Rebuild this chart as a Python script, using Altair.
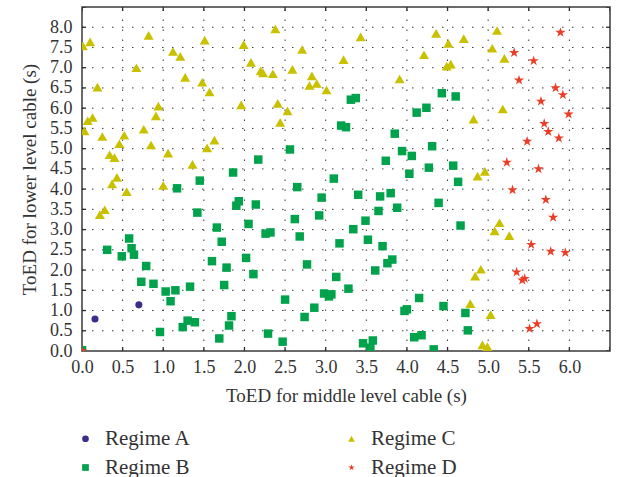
import altair as alt
import pandas as pd

# ---- data ----
a_x = [0.16, 0.70]
a_y = [0.79, 1.14]

b_x = [0.00, 1.17, 1.45, 1.86, 2.17, 2.56, 2.65, 3.10, 3.31, 3.37, 4.43, 4.60, 4.12, 4.24,
       3.19, 3.25, 3.85, 3.94, 4.06, 4.31, 3.74, 4.27, 4.57, 4.03, 4.63, 3.40, 3.67, 3.80,
       3.88, 3.65, 4.39, 3.49, 3.34, 3.52, 4.66, 3.17, 3.70, 3.82, 3.76, 3.61, 3.13, 3.28,
       4.15, 4.00, 3.97, 4.45, 4.72, 4.75, 4.09, 4.18, 3.46, 3.58, 3.55, 4.33, 2.95, 1.93,
       1.90, 2.14, 1.42, 2.92, 2.62, 2.05, 1.66, 2.26, 2.32, 2.68, 1.72, 0.58, 0.31, 0.61,
       0.64, 0.49, 1.60, 2.02, 1.78, 2.77, 2.11, 0.79, 0.73, 0.88, 1.75, 1.33, 1.03, 1.15,
       1.09, 2.98, 3.04, 3.07, 2.50, 2.86, 2.74, 1.84, 1.30, 1.24, 1.39, 1.81, 0.96, 2.29,
       1.69, 2.47]
b_y = [0.02, 4.02, 4.21, 4.41, 4.73, 4.98, 4.05, 4.26, 6.21, 6.25, 6.37, 6.29, 5.89, 6.01,
       5.57, 5.53, 5.37, 4.94, 4.82, 5.06, 4.70, 4.53, 4.58, 4.38, 4.18, 3.86, 3.82, 3.90,
       3.54, 3.46, 3.66, 3.22, 3.01, 2.75, 3.10, 2.66, 2.59, 2.26, 2.17, 1.99, 1.83, 1.54,
       1.31, 1.03, 0.99, 1.11, 0.94, 0.51, 0.34, 0.39, 0.19, 0.26, 0.08, 0.04, 3.79, 3.70,
       3.59, 3.62, 3.42, 3.35, 3.26, 3.14, 3.05, 2.90, 2.93, 2.83, 2.70, 2.78, 2.50, 2.54,
       2.38, 2.34, 2.22, 2.30, 2.06, 2.14, 1.90, 2.10, 1.71, 1.66, 1.63, 1.59, 1.47, 1.50,
       1.23, 1.42, 1.35, 1.40, 1.27, 1.07, 0.84, 0.86, 0.75, 0.59, 0.71, 0.63, 0.47, 0.43,
       0.31, 0.23]

c_x = [0.01, 0.10, 0.82, 1.51, 1.99, 2.38, 2.71, 3.22, 1.12, 1.21, 0.67, 2.08, 2.20, 2.23,
       2.35, 2.59, 2.83, 2.80, 2.89, 3.01, 1.27, 1.48, 1.57, 0.19, 0.94, 0.91, 1.96, 2.41,
       2.53, 2.44, 0.07, 0.13, 0.03, 0.76, 0.25, 0.52, 0.46, 0.85, 1.63, 1.54, 1.06, 0.34,
       0.40, 1.36, 0.43, 0.37, 0.55, 1.00, 0.28, 0.22,
       3.43, 4.36, 4.70, 4.51, 5.11, 5.05, 4.21, 4.49, 4.54, 5.20, 3.91, 5.18, 4.82, 4.87,
       4.96, 5.14, 5.08, 5.26, 4.91, 4.84, 4.78, 5.03, 4.93, 4.99]
c_y = [7.54, 7.64, 7.80, 7.68, 7.57, 7.96, 7.45, 7.20, 7.40, 7.28, 7.00, 7.13, 6.92, 6.87,
       6.85, 6.96, 6.80, 6.56, 6.61, 6.45, 6.76, 6.64, 6.40, 6.52, 6.05, 5.81, 6.08, 6.12,
       5.93, 5.65, 5.69, 5.77, 5.44, 5.48, 5.30, 5.33, 5.12, 5.09, 5.21, 5.02, 4.89, 4.85,
       4.78, 4.61, 4.29, 4.13, 3.94, 4.09, 3.49, 3.37,
       7.76, 7.85, 7.72, 7.60, 7.92, 7.48, 7.32, 7.04, 7.09, 7.23, 6.72, 5.98, 5.73, 4.32,
       4.44, 3.17, 2.97, 2.85, 2.02, 1.85, 1.17, 0.90, 0.15, 0.11]

d_x = [5.89, 5.32, 5.56, 5.38, 5.83, 5.92, 5.65, 5.99, 5.69, 5.74, 5.87, 5.48, 5.23, 5.62,
       5.30, 5.71, 5.80, 5.53, 5.77, 5.95, 5.35, 5.42, 5.45, 5.51, 5.60, 0.00]
d_y = [7.87, 7.37, 7.17, 6.69, 6.50, 6.33, 6.17, 5.85, 5.62, 5.42, 5.26, 5.18, 4.66, 4.50,
       3.98, 3.74, 3.30, 2.63, 2.46, 2.43, 1.95, 1.75, 1.79, 0.55, 0.67, 0.00]

regimes = ["Regime A", "Regime B", "Regime C", "Regime D"]
x_ticks = [0.0, 0.5, 1.0, 1.5, 2.0, 2.5, 3.0, 3.5, 4.0, 4.5, 5.0, 5.5, 6.0]
y_ticks = [0.0, 0.5, 1.0, 1.5, 2.0, 2.5, 3.0, 3.5, 4.0, 4.5, 5.0, 5.5, 6.0, 6.5, 7.0, 7.5, 8.0]
x_domain = [0, 6.5]
y_domain = [0, 8.5]

rows = []
for name, xs_, ys_ in zip(regimes, [a_x, b_x, c_x, d_x], [a_y, b_y, c_y, d_y]):
    for xv, yv in zip(xs_, ys_):
        rows.append({"x": xv, "y": yv, "regime": name})
df = pd.DataFrame(rows)

# grid lines (two end points per grid line, built from the tick lists and domains)
vgrid_df = pd.DataFrame([{"g": v, "x": v, "y": yy} for v in x_ticks[1:] for yy in y_domain])
hgrid_df = pd.DataFrame([{"g": v, "x": xx, "y": v} for v in y_ticks[1:] for xx in x_domain])
# inner ticks on all four sides of the frame
xtick_df = pd.DataFrame([{"x": v, "y": yy} for v in x_ticks + [x_domain[1]] for yy in y_domain])
ytick_df = pd.DataFrame([{"x": xx, "y": v} for v in y_ticks + [y_domain[1]] for xx in x_domain])

W, H = 528, 344
FONT = "Liberation Serif"
TXT = "#333333"

STAR = ("M0,-1L0.225,-0.309L0.951,-0.309L0.363,0.118L0.588,0.809L0,0.382"
        "L-0.588,0.809L-0.363,0.118L-0.951,-0.309L-0.225,-0.309Z")

xs = alt.Scale(domain=x_domain, nice=False, zero=False)
ys = alt.Scale(domain=y_domain, nice=False, zero=False)
xaxis = alt.Axis(values=x_ticks, format=".1f", title="ToED for middle level cable (s)",
                 orient="bottom", ticks=False, domain=False, labelPadding=7,
                 labelFlush=False, titlePadding=10, grid=False)
yaxis = alt.Axis(values=y_ticks, format=".1f", title="ToED for lower level cable (s)",
                 orient="left", ticks=False, domain=False, labelPadding=10,
                 labelFlush=False, titlePadding=10, grid=False)

shape_range = ["circle", "square", "triangle-up", STAR]
color_range = ["#3b2d8c", "#00a24b", "#c9c100", "#ec3d27"]
mark_sizes = {"Regime A": 50, "Regime B": 72, "Regime C": 100, "Regime D": 115}

legend = alt.Legend(title=None, orient="none", legendX=-7, legendY=421,
                    columns=2, columnPadding=150, rowPadding=7,
                    symbolSize=45, labelOffset=9, padding=0,
                    labelFont=FONT, labelFontSize=21, labelColor=TXT)

X = alt.X("x:Q", scale=xs, axis=xaxis)
Y = alt.Y("y:Q", scale=ys, axis=yaxis)

grid_style = dict(color="#3a3a3a", strokeWidth=1, strokeDash=[1.5, 8.5], opacity=1)
vgrid = alt.Chart(vgrid_df).mark_line(**grid_style).encode(
    x=X, y=Y, detail="g:N", order="y:Q")
hgrid = alt.Chart(hgrid_df).mark_line(**grid_style).encode(
    x=X, y=Y, detail="g:N", order="x:Q")

tick_style = dict(shape="stroke", color="#2a2a2a", strokeWidth=1.3, size=64,
                  filled=False, opacity=1, clip=True)
xticks_layer = alt.Chart(xtick_df).mark_point(angle=90, **tick_style).encode(x=X, y=Y)
yticks_layer = alt.Chart(ytick_df).mark_point(angle=0, **tick_style).encode(x=X, y=Y)

base = alt.Chart(df)
point_layers = []
for name in regimes:
    layer = base.transform_filter(alt.datum.regime == name).mark_point(
        filled=True, opacity=1, clip=True, size=mark_sizes[name]
    ).encode(
        x=X, y=Y,
        shape=alt.Shape("regime:N", scale=alt.Scale(domain=regimes, range=shape_range),
                        legend=legend),
        color=alt.Color("regime:N", scale=alt.Scale(domain=regimes, range=color_range),
                        legend=legend),
    )
    point_layers.append(layer)

chart = alt.layer(vgrid, hgrid, xticks_layer, yticks_layer, *point_layers).properties(
    width=W, height=H,
    autosize=alt.AutoSizeParams(type="none"),
    padding={"left": 82, "top": 7, "right": 9, "bottom": 126},
    background="white",
).configure_view(
    stroke="#3a3a3a", strokeWidth=1.5
).configure_axis(
    labelFont=FONT, labelFontSize=18, labelColor=TXT,
    titleFont=FONT, titleFontSize=19, titleFontWeight="normal", titleColor=TXT,
)

chart.save("out.html", embed_options={"renderer": "svg", "actions": False})
